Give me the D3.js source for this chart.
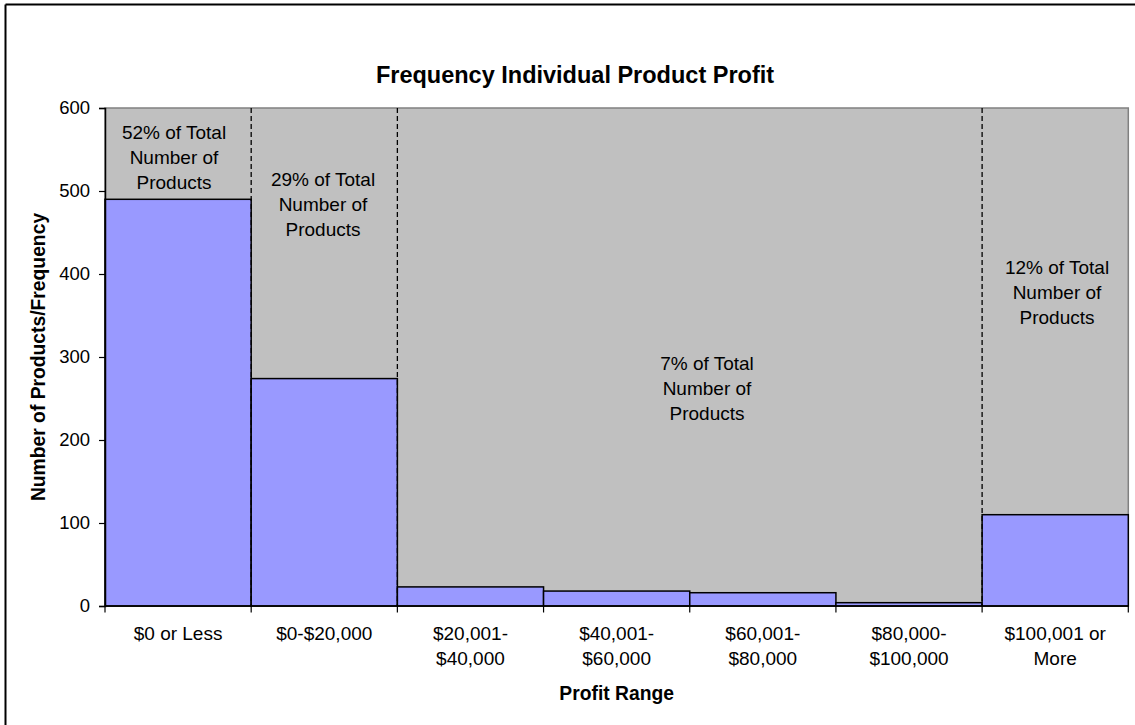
<!DOCTYPE html>
<html>
<head>
<meta charset="utf-8">
<script src="https://cdn.jsdelivr.net/npm/d3@7"></script>
<style>
  html, body { margin: 0; padding: 0; background: #fff; }
  svg { display: block; }
  text { font-family: Arial, "Liberation Sans", sans-serif; fill: #000; }
</style>
</head>
<body>
<svg id="chart" width="1135" height="725"></svg>
<script>
// ---- data ----
const categories = ["$0 or Less", "$0-$20,000", "$20,001-\n$40,000", "$40,001-\n$60,000",
                    "$60,001-\n$80,000", "$80,000-\n$100,000", "$100,001 or\nMore"];
const frequencies = [490, 274, 23, 18, 16, 4, 110];
const yTicks = [0, 100, 200, 300, 400, 500, 600];
const dividerAfter = [0, 1, 5];           // dashed separators after these category indices
const annotationTexts = ["52% of Total\nNumber of\nProducts", "29% of Total\nNumber of\nProducts",
                         "7% of Total\nNumber of\nProducts", "12% of Total\nNumber of\nProducts"];
const annotationValues = [571, 515, 293, 408]; // y (in data units) of first line

const title = "Frequency Individual Product Profit";
const xTitle = "Profit Range";
const yTitle = "Number of Products/Frequency";

// ---- layout ----
const plot = { left: 105, right: 1128.3, top: 108, bottom: 606 };
const annotationX = [174, 323, 707, 1057];

const svg = d3.select("#chart");

// outer border (top & left visible)
svg.append("line").attr("x1", 5.5).attr("y1", 4.5).attr("x2", 1135).attr("y2", 4.5)
  .attr("stroke", "#000").attr("stroke-width", 2);
svg.append("line").attr("x1", 5.5).attr("y1", 4.5).attr("x2", 5.5).attr("y2", 725)
  .attr("stroke", "#000").attr("stroke-width", 2);

const x = d3.scaleBand().domain(d3.range(categories.length))
  .range([plot.left, plot.right]).paddingInner(0).paddingOuter(0);
const y = d3.scaleLinear().domain([0, 600]).range([plot.bottom, plot.top]);

// plot background
svg.append("rect").attr("x", plot.left).attr("y", plot.top)
  .attr("width", plot.right - plot.left).attr("height", plot.bottom - plot.top)
  .attr("fill", "#C0C0C0").attr("stroke", "#808080").attr("stroke-width", 1.5);

// bars
svg.append("g").selectAll("rect").data(frequencies).join("rect")
  .attr("x", (d, i) => x(i))
  .attr("y", d => y(d))
  .attr("width", x.bandwidth())
  .attr("height", d => y(0) - y(d))
  .attr("fill", "#9999FF").attr("stroke", "#000").attr("stroke-width", 1.5);

// dashed dividers
svg.append("g").selectAll("line").data(dividerAfter).join("line")
  .attr("x1", i => x(i) + x.bandwidth()).attr("x2", i => x(i) + x.bandwidth())
  .attr("y1", y(600)).attr("y2", y(0))
  .attr("stroke", "#000").attr("stroke-width", 1.3).attr("stroke-dasharray", "5,3");

// annotations
annotationTexts.forEach((t, k) => {
  const tx = svg.append("text").attr("text-anchor", "middle")
    .attr("font-size", "19px");
  t.split("\n").forEach((line, j) => {
    tx.append("tspan").attr("x", annotationX[k])
      .attr("y", y(annotationValues[k]) + 7 + j * 25).text(line);
  });
});

// y axis
const yAxis = d3.axisLeft(y).tickValues(yTicks).tickSize(6).tickPadding(9).tickFormat(d3.format("d"));
const gy = svg.append("g").attr("transform", `translate(${plot.left},0)`).call(yAxis);
gy.select(".domain").attr("stroke", "#000").attr("stroke-width", 1.5);
gy.selectAll(".tick line").attr("stroke", "#000").attr("stroke-width", 1.2);
gy.selectAll(".tick text").attr("font-size", "18.5px").attr("font-family", "Arial, 'Liberation Sans', sans-serif").attr("fill", "#000");

// x axis baseline + boundary ticks
const boundaries = d3.range(categories.length + 1).map(i => i < categories.length ? x(i) : x(i - 1) + x.bandwidth());
svg.append("line").attr("x1", plot.left).attr("x2", plot.right).attr("y1", y(0)).attr("y2", y(0))
  .attr("stroke", "#000").attr("stroke-width", 1.5);
svg.append("g").selectAll("line").data(boundaries).join("line")
  .attr("x1", d => d).attr("x2", d => d).attr("y1", y(0)).attr("y2", y(0) + 6.5)
  .attr("stroke", "#000").attr("stroke-width", 1.2);

// category labels
const xl = svg.append("g").selectAll("text").data(categories).join("text")
  .attr("text-anchor", "middle").attr("font-size", "19px");
xl.each(function(d, i) {
  const t = d3.select(this);
  d.split("\n").forEach((line, j) => {
    t.append("tspan").attr("x", x(i) + x.bandwidth() / 2).attr("y", 640 + j * 25).text(line);
  });
});

// titles
svg.append("text").attr("x", 575).attr("y", 83).attr("text-anchor", "middle")
  .attr("font-size", "23.5px").attr("font-weight", "bold").text(title);
svg.append("text").attr("x", (plot.left + plot.right) / 2).attr("y", 700).attr("text-anchor", "middle")
  .attr("font-size", "19.3px").attr("font-weight", "bold").text(xTitle);
svg.append("text").attr("transform", `translate(45,${(plot.top + plot.bottom) / 2}) rotate(-90)`)
  .attr("text-anchor", "middle").attr("font-size", "19.3px").attr("font-weight", "bold").text(yTitle);
</script>
</body>
</html>
